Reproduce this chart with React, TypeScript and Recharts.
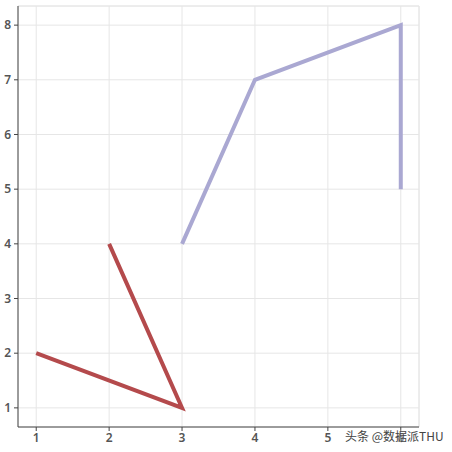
import React from 'react';
import {
  LineChart,
  Line,
  XAxis,
  YAxis,
  CartesianGrid,
  ReferenceLine
} from 'recharts';

// red series, drawn in data order
const redX = [1, 3, 2];
const redY = [2, 1, 4];
// purple series
const blueX = [3, 4, 6, 6];
const blueY = [4, 7, 8, 5];

const xTicks = [1, 2, 3, 4, 5, 6];
const yTicks = [1, 2, 3, 4, 5, 6, 7, 8];

const redData = redX.map((x, i) => ({ x, y: redY[i] }));
const blueData = blueX.map((x, i) => ({ x, y: blueY[i] }));

const tickStyle = { fill: '#555', fontSize: 12, fontWeight: 600, fontFamily: 'Noto Sans, DejaVu Sans, sans-serif' };

const App: React.FC = () => {
  return (
    <div style={{ position: 'absolute', left: 0, top: 0, width: 452, height: 452, background: '#fff' }}>
      <LineChart width={452} height={452} margin={{ top: 6, right: 33, left: 0, bottom: 0 }}>
        <CartesianGrid stroke="#e6e6e6" strokeWidth={1} />
        <XAxis
          type="number"
          dataKey="x"
          domain={[0.75, 6.25]}
          ticks={xTicks}
          allowDataOverflow
          height={25}
          stroke="#444"
          tickSize={4}
          tick={tickStyle}
        />
        <YAxis
          type="number"
          dataKey="y"
          domain={[0.65, 8.35]}
          ticks={yTicks}
          allowDataOverflow
          width={18}
          stroke="#444"
          tickSize={4}
          tickMargin={3}
          tick={tickStyle}
        />
        <ReferenceLine y={8.35} stroke="#e6e6e6" />
        <ReferenceLine x={6.25} stroke="#e6e6e6" />
        <Line
          data={redData}
          dataKey="y"
          stroke="#b44a4c"
          strokeWidth={4}
          dot={false}
          type="linear"
          isAnimationActive={false}
        />
        <Line
          data={blueData}
          dataKey="y"
          stroke="#aaa8d2"
          strokeWidth={4}
          dot={false}
          type="linear"
          isAnimationActive={false}
        />
      </LineChart>
      <div
        style={{
          position: 'absolute',
          left: 345,
          top: 427,
          fontSize: 12,
          color: '#444',
          fontFamily: 'Noto Sans CJK SC, sans-serif',
          textShadow: '0 0 2px #fff'
        }}
      >
        头条 @数据派THU
      </div>
    </div>
  );
};

export default App;
